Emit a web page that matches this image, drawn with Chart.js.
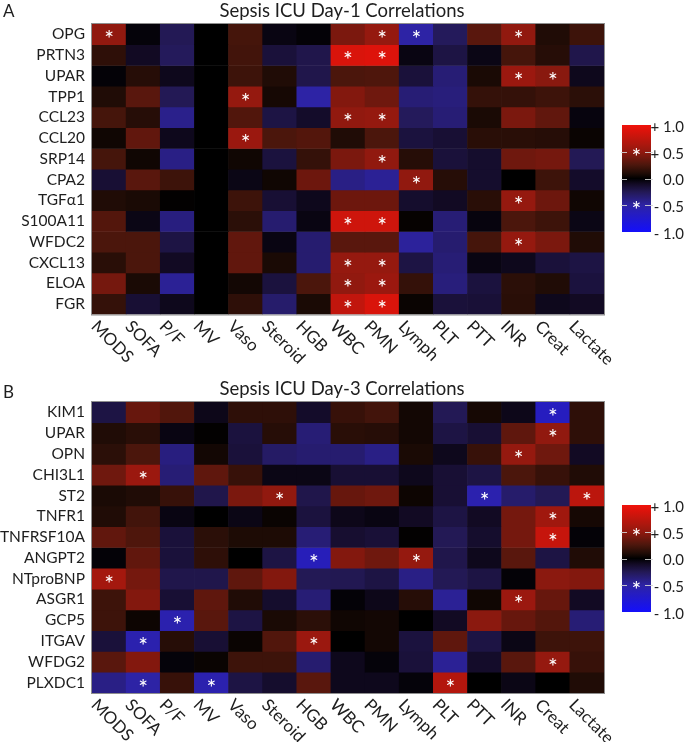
<!DOCTYPE html>
<html><head><meta charset="utf-8">
<script src="https://cdn.jsdelivr.net/npm/chart.js@4.4.1/dist/chart.umd.min.js"></script>
<style>
html,body{margin:0;padding:0;background:#fff;}
body{width:685px;height:742px;position:relative;overflow:hidden;}
canvas{position:absolute;left:0;}
#cA{top:0;}
#cB{top:378px;}
</style></head><body>
<canvas id="cA" width="685" height="378"></canvas>
<canvas id="cB" width="685" height="364"></canvas>
<script>
const columns = ['MODS','SOFA','P/F','MV','Vaso','Steroid','HGB','WBC','PMN','Lymph','PLT','PTT','INR','Creat','Lactate'];
const rowsDay1 = ['OPG','PRTN3','UPAR','TPP1','CCL23','CCL20','SRP14','CPA2','TGFα1','S100A11','WFDC2','CXCL13','ELOA','FGR'];
const rowsDay3 = ['KIM1','UPAR','OPN','CHI3L1','ST2','TNFR1','TNFRSF10A','ANGPT2','NTproBNP','ASGR1','GCP5','ITGAV','WFDG2','PLXDC1'];

// correlation values, one row per analyte, columns in order of `columns`
const valuesDay1 = [
  [ 0.50,-0.03,-0.25,0, 0.23,-0.05,-0.02, 0.42, 0.52,-0.50,-0.27, 0.30, 0.50, 0.10, 0.20],
  [ 0.15,-0.10,-0.27,0, 0.22,-0.17,-0.22, 0.88, 0.90,-0.05,-0.20,-0.06, 0.23, 0.12,-0.22],
  [-0.02, 0.12,-0.08,0, 0.20, 0.10,-0.22, 0.25, 0.26,-0.17,-0.35, 0.08, 0.55, 0.47,-0.08],
  [ 0.10, 0.30,-0.25,0, 0.52, 0.07,-0.50, 0.45, 0.38,-0.35,-0.37, 0.17, 0.17, 0.20, 0.14],
  [ 0.23, 0.12,-0.42,0, 0.27,-0.20,-0.12, 0.50, 0.52,-0.27,-0.35, 0.08, 0.42, 0.33,-0.04],
  [ 0.05, 0.33,-0.08,0, 0.55, 0.25, 0.28, 0.10, 0.25,-0.18,-0.15, 0.13, 0.13, 0.12, 0.03],
  [ 0.23, 0.05,-0.40,0, 0.05,-0.18, 0.17, 0.42, 0.50, 0.12,-0.17,-0.13, 0.38, 0.40,-0.25],
  [-0.15, 0.30, 0.20,0,-0.06, 0.05, 0.37,-0.40,-0.45, 0.50, 0.12,-0.13, 0.00, 0.20,-0.12],
  [ 0.10, 0.08, 0.01,0, 0.20,-0.15,-0.08, 0.37, 0.37,-0.13,-0.10, 0.13, 0.52, 0.37, 0.05],
  [ 0.28,-0.06,-0.38,0, 0.14,-0.33,-0.05, 0.82, 0.82, 0.02,-0.35,-0.04, 0.25, 0.20,-0.06],
  [ 0.25, 0.25,-0.20,0, 0.33,-0.05,-0.33, 0.30, 0.30,-0.47,-0.33, 0.23, 0.52, 0.42, 0.10],
  [ 0.13, 0.25,-0.10,0, 0.33, 0.08,-0.33, 0.52, 0.52,-0.20,-0.35,-0.05,-0.08,-0.17,-0.20],
  [ 0.40, 0.08,-0.45,0, 0.06,-0.18, 0.25, 0.50, 0.55, 0.17,-0.37,-0.18, 0.14, 0.10,-0.18],
  [ 0.17,-0.15,-0.08,0, 0.15,-0.32, 0.08, 0.75, 0.88, 0.03,-0.17,-0.16, 0.13,-0.08,-0.10]
];
const valuesDay3 = [
  [-0.20, 0.35, 0.27,-0.07, 0.15, 0.15,-0.12, 0.18, 0.22, 0.06,-0.25, 0.07,-0.07,-0.65, 0.15],
  [ 0.10, 0.13,-0.05, 0.01,-0.18, 0.12,-0.35, 0.13, 0.12, 0.06,-0.20,-0.15, 0.32, 0.50, 0.15],
  [ 0.14, 0.25,-0.38, 0.06,-0.17,-0.30,-0.33,-0.33,-0.40, 0.08,-0.08, 0.18, 0.52, 0.38,-0.10],
  [ 0.38, 0.55,-0.35, 0.32, 0.18,-0.06,-0.06,-0.15,-0.15,-0.08,-0.15,-0.20, 0.25, 0.18, 0.10],
  [ 0.08, 0.10, 0.18,-0.22, 0.42, 0.50,-0.22, 0.35, 0.38, 0.04,-0.15,-0.55,-0.32,-0.25, 0.72],
  [ 0.10, 0.22,-0.05, 0.00,-0.06, 0.03,-0.18,-0.07,-0.05,-0.10,-0.20,-0.10, 0.40, 0.58, 0.07],
  [ 0.33, 0.26,-0.17, 0.14, 0.09, 0.09,-0.35,-0.14,-0.16, 0.01,-0.25,-0.13, 0.40, 0.78,-0.02],
  [-0.02, 0.33,-0.17, 0.15, 0.00,-0.20,-0.62, 0.45, 0.38, 0.52,-0.22,-0.08, 0.30,-0.20, 0.10],
  [ 0.60, 0.40,-0.22,-0.22, 0.32, 0.45,-0.25,-0.24,-0.20,-0.40,-0.25,-0.20,-0.02, 0.48, 0.45],
  [ 0.20, 0.45,-0.15, 0.32, 0.10,-0.13,-0.35,-0.02,-0.07, 0.12,-0.45, 0.05, 0.55, 0.35,-0.10],
  [ 0.20, 0.04,-0.55, 0.30,-0.20, 0.08, 0.14, 0.05, 0.06, 0.00,-0.10, 0.48, 0.35, 0.28,-0.35],
  [-0.17,-0.55, 0.12,-0.15, 0.03, 0.27, 0.55, 0.00, 0.06,-0.18, 0.32,-0.20,-0.06, 0.20, 0.20],
  [ 0.30, 0.45,-0.03, 0.03, 0.20, 0.20,-0.33,-0.08,-0.03,-0.17,-0.45,-0.12, 0.30, 0.52, 0.18],
  [-0.40,-0.50, 0.18,-0.55,-0.20,-0.13, 0.30,-0.08,-0.08,-0.03, 0.68, 0.00,-0.06, 0.00, 0.10]
];
// significant cells [rowIndex, columnIndex]
const starsDay1 = [[0,0],[0,8],[0,9],[0,12],[1,7],[1,8],[2,12],[2,13],[3,4],[4,7],[4,8],[5,4],[6,8],[7,9],[8,12],[9,7],[9,8],[10,12],[11,7],[11,8],[12,7],[12,8],[13,7],[13,8]];
const starsDay3 = [[0,13],[1,13],[2,12],[3,1],[4,5],[4,11],[4,14],[5,13],[6,13],[7,6],[7,9],[8,0],[9,12],[10,2],[11,1],[11,6],[12,13],[13,1],[13,3],[13,10]];
const colorbarValues = [1, 0.5, 0, -0.5, -1];
const colorbarLabels = ['+ 1.0', '+ 0.5', '0.0', '- 0.5', '- 1.0'];

const FONT = 'Lato, "Open Sans", sans-serif';
const TEXT = '#1e1e1e';

const colorStops = [
  [-1.0, [20,15,250]],
  [-0.5, [45,35,165]],
  [-0.25,[35,25,85]],
  [-0.1, [18,10,35]],
  [0.0,  [0,0,0]],
  [0.1,  [32,12,6]],
  [0.25, [75,22,12]],
  [0.5,  [145,25,15]],
  [1.0,  [240,18,10]]
];
function colorFor(v){
  v = Math.max(-1, Math.min(1, v));
  for (let i=0;i<colorStops.length-1;i++){
    const [a,ca]=colorStops[i],[b,cb]=colorStops[i+1];
    if (v>=a && v<=b){
      const t=(v-a)/(b-a);
      const c=ca.map((x,k)=>Math.round(x+(cb[k]-x)*t));
      return `rgb(${c[0]},${c[1]},${c[2]})`;
    }
  }
  return 'rgb(0,0,0)';
}

function makeHeatmap(id, cfg){
  const canvas = document.getElementById(id);
  const H = canvas.height;
  const rows = cfg.rows, values = cfg.values;
  const datasets = rows.map((name, r) => ({
    label: name,
    data: columns.map(() => 1),
    backgroundColor: values[r].map(colorFor),
    borderWidth: 0,
    barPercentage: 1,
    categoryPercentage: 1
  }));
  const deco = {
    id: 'deco',
    afterDatasetsDraw(chart){
      const ctx = chart.ctx, a = chart.chartArea;
      const xs = chart.scales.x, ys = chart.scales.y;
      ctx.save();
      // border
      ctx.strokeStyle = 'rgba(130,130,130,0.9)';
      ctx.lineWidth = 1;
      ctx.strokeRect(a.left-0.5, a.top-0.5, a.right-a.left+1, a.bottom-a.top+1);
      // stars
      ctx.fillStyle = '#ffffff';
      ctx.font = '23px ' + FONT;
      ctx.textAlign = 'center';
      ctx.textBaseline = 'alphabetic';
      cfg.stars.forEach(([r,c]) => {
        const x = xs.getPixelForValue(c);
        const y = ys.getPixelForValue(r + 0.5);
        ctx.fillText('*', x, y + 13);
      });
      // column labels
      ctx.fillStyle = TEXT;
      ctx.font = '17px ' + FONT;
      ctx.textAlign = 'left';
      ctx.textBaseline = 'top';
      columns.forEach((lab, i) => {
        const cx = xs.getPixelForValue(i);
        ctx.save();
        ctx.translate(cx - 9, a.bottom + 3);
        ctx.rotate(Math.PI/4);
        ctx.fillText(lab, 0, 0);
        ctx.restore();
      });
      // title and panel letter
      ctx.font = '18.5px ' + FONT;
      ctx.textAlign = 'center';
      ctx.textBaseline = 'alphabetic';
      ctx.fillText(cfg.title, 342, 17);
      ctx.textAlign = 'left';
      ctx.font = '17px ' + FONT;
      ctx.fillText(cfg.letter, 3, cfg.letterY);
      // colorbar
      const cbL = 622, cbW = 29, cbT = cfg.cbTop, cbH = 107;
      const grad = ctx.createLinearGradient(0, cbT, 0, cbT + cbH);
      for (let k=0;k<=40;k++){
        const v = 1 - k/20;
        grad.addColorStop(k/40, colorFor(v));
      }
      ctx.fillStyle = grad;
      ctx.fillRect(cbL, cbT, cbW, cbH);
      const mid = cbT + cbH/2, half = cbH/2;
      ctx.strokeStyle = 'rgba(210,210,210,0.9)';
      ctx.lineWidth = 1;
      colorbarValues.forEach((v, k) => {
        const y = mid - v*half;
        if (Math.abs(v) < 1){
          ctx.beginPath();
          ctx.moveTo(cbL - 1, Math.round(y)+0.5); ctx.lineTo(cbL + 5, Math.round(y)+0.5);
          ctx.moveTo(cbL + cbW - 6, Math.round(y)+0.5); ctx.lineTo(cbL + cbW + 2, Math.round(y)+0.5);
          ctx.stroke();
        }
        if (Math.abs(v) === 0.5){
          ctx.fillStyle = '#ffffff';
          ctx.font = '23px ' + FONT;
          ctx.textAlign = 'center';
          ctx.textBaseline = 'alphabetic';
          ctx.fillText('*', cbL + cbW/2, y + 13);
        }
        ctx.fillStyle = TEXT;
        ctx.font = '15px ' + FONT;
        ctx.textAlign = 'right';
        ctx.textBaseline = 'middle';
        ctx.fillText(colorbarLabels[k], 684, y + 2);
      });
      ctx.restore();
    }
  };
  return new Chart(canvas, {
    type: 'bar',
    data: { labels: columns, datasets },
    options: {
      responsive: false,
      animation: false,
      layout: { padding: { top: 24, right: 81, left: 0, bottom: 0 } },
      plugins: { legend: { display: false }, tooltip: { enabled: false }, title: { display: false } },
      scales: {
        x: {
          type: 'category', stacked: true, offset: true,
          grid: { display: false }, border: { display: false },
          ticks: { display: false },
          afterFit: s => { s.height = H - cfg.bottom; }
        },
        y: {
          type: 'linear', stacked: true, min: 0, max: rows.length, reverse: true,
          grid: { display: false, drawTicks: false }, border: { display: false },
          afterBuildTicks: s => { s.ticks = rows.map((_, i) => ({ value: i + 0.5 })); },
          ticks: {
            autoSkip: false, padding: 7, color: TEXT,
            font: { family: FONT, size: 15.5 },
            callback: v => rows[Math.floor(v)]
          },
          afterFit: s => { s.width = 92; }
        }
      }
    },
    plugins: [deco]
  });
}

makeHeatmap('cA', { rows: rowsDay1, values: valuesDay1, stars: starsDay1, title: 'Sepsis ICU Day-1 Correlations', letter: 'A', letterY: 17, cbTop: 125, bottom: 314.5 });
makeHeatmap('cB', { rows: rowsDay3, values: valuesDay3, stars: starsDay3, title: 'Sepsis ICU Day-3 Correlations', letter: 'B', letterY: 20, cbTop: 127, bottom: 315 });
</script>
</body></html>
